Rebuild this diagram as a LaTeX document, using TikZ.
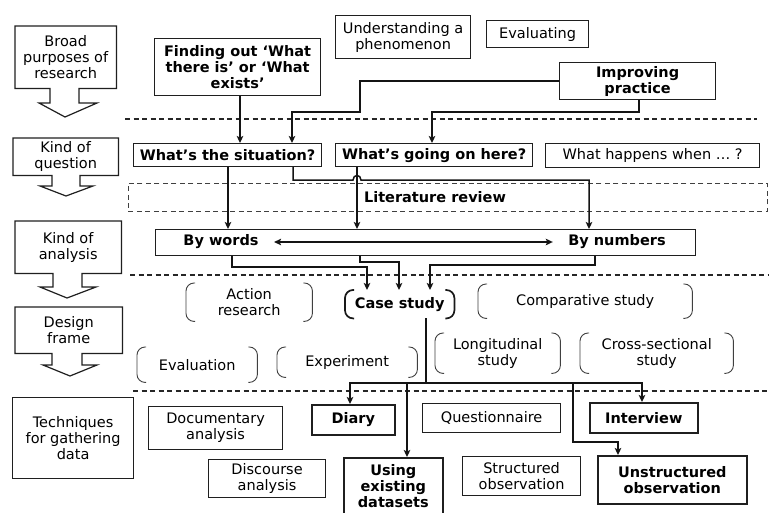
\documentclass[tikz,border=0pt]{standalone}
\usepackage{fontspec}
\setmainfont{DejaVu Sans}
\usetikzlibrary{arrows.meta}

\newcommand\diafont{\fontsize{14.5}{16}\selectfont}
% a pair of round-cornered brackets around a node
\newcommand\bracketpair[2][]{%
  \draw[bracketline,#1] ([xshift=9pt]#2.north west) -- (#2.north west) -- (#2.south west) -- ([xshift=9pt]#2.south west);
  \draw[bracketline,#1] ([xshift=-9pt]#2.north east) -- (#2.north east) -- (#2.south east) -- ([xshift=-9pt]#2.south east);}

\begin{document}
\begin{tikzpicture}[x=1pt,y=-1pt,
  font=\diafont,
  >={Stealth[length=7pt,width=6.5pt,inset=1.5pt]},
  box/.style={draw=black!88, line width=1.2pt, anchor=north west, inner sep=0pt, align=center},
  bbox/.style={box, font=\diafont\bfseries},
  heavybox/.style={bbox, line width=1.6pt},
  stage/.style={anchor=north west, inner sep=0pt, align=center},
  outline/.style={draw=black!88, line width=1.2pt},
  framed/.style={anchor=north west, inner sep=0pt, align=center},
  bracketline/.style={draw=black!75, line width=0.9pt, rounded corners=8pt},
  line/.style={draw=black!92, line width=1.5pt},
  conn/.style={line, ->},
  sep/.style={draw=black!85, line width=1.1pt, dash pattern=on 5pt off 3.5pt},
]
\useasboundingbox[fill=white] (0,0) rectangle (769,512);

% ---- stages down the left-hand side ----
\node[stage, minimum width=101pt, minimum height=62pt] (broad) at (15,26) {Broad\\purposes of\\research};
\draw[outline] (broad.south west) -- (broad.north west) -- (broad.north east) -- (broad.south east)
  -- (broad.south -| 79,0) -- (79,103) -- (97,103) -- (65,117) -- (39,103) -- (50,103) -- (broad.south -| 50,0) -- cycle;

\node[stage, minimum width=105pt, minimum height=37pt] (kindq) at (13,138) {Kind of\\question};
\draw[outline] (kindq.south west) -- (kindq.north west) -- (kindq.north east) -- (kindq.south east)
  -- (kindq.south -| 80,0) -- (80,186) -- (93,186) -- (66,196) -- (40,186) -- (52,186) -- (kindq.south -| 52,0) -- cycle;

\node[stage, minimum width=106pt, minimum height=52pt] (kinda) at (15,221) {Kind of\\analysis};
\draw[outline] (kinda.south west) -- (kinda.north west) -- (kinda.north east) -- (kinda.south east)
  -- (kinda.south -| 82,0) -- (82,287) -- (96,287) -- (67,298) -- (40,287) -- (53,287) -- (kinda.south -| 53,0) -- cycle;

\node[stage, minimum width=107pt, minimum height=46pt] (design) at (15,307) {Design\\frame};
\draw[outline] (design.south west) -- (design.north west) -- (design.north east) -- (design.south east)
  -- (design.south -| 82,0) -- (82,365) -- (97,365) -- (70,376) -- (43,365) -- (52,365) -- (design.south -| 52,0) -- cycle;

\node[box, minimum width=121pt, minimum height=81pt] (techniques) at (12,397) {Techniques\\for gathering\\data};

% ---- separators between the stages ----
\draw[sep] (125,119) -- (757,119);
\draw[sep] (130,275) -- (769,275);
\draw[sep] (133,391) -- (769,391);

% ---- broad purposes ----
\node[bbox, minimum width=166pt, minimum height=57pt] (finding) at (154,38) {Finding out ‘What\\there is’ or ‘What\\exists’};
\node[box, minimum width=135pt, minimum height=43pt] (understanding) at (335,15) {Understanding a\\phenomenon};
\node[box, minimum width=102pt, minimum height=27pt] (evaluating) at (486,20) {Evaluating};
\node[bbox, minimum width=156pt, minimum height=37pt] (improving) at (559,62) {Improving\\practice};

% ---- kinds of question ----
\node[bbox, minimum width=188pt, minimum height=23pt] (situation) at (133,143) {What’s the situation?};
\node[bbox, minimum width=197pt, minimum height=23pt] (goingon) at (335,143) {What’s going on here?};
\node[box, minimum width=214pt, minimum height=24pt] (happens) at (545,143) {What happens when … ?};

% ---- literature review band ----
\node[box, draw=black!75, line width=0.9pt, dash pattern=on 5pt off 3.5pt, minimum width=639pt, minimum height=28pt] (litrev) at (128,183) {};
\node[font=\diafont\bfseries] (litrevtext) at (435,197) {Literature review};

% ---- kinds of analysis ----
\node[box, minimum width=540pt, minimum height=26pt] (analysis) at (155,229) {};
\node[font=\diafont\bfseries] (bywords) at (221,242) {By words};
\node[font=\diafont\bfseries] (bynumbers) at (617,242) {By numbers};

% ---- design frames ----
\node[framed, minimum width=126pt, minimum height=38pt] (action) at (186,283) {Action\\research};
\node[framed, minimum width=109pt, minimum height=28pt, font=\diafont\bfseries] (casestudy) at (345,290) {Case study};
\node[framed, minimum width=214pt, minimum height=34pt] (comparative) at (478,284) {Comparative study};
\node[framed, minimum width=120pt, minimum height=35pt] (evaluation) at (137,347) {Evaluation};
\node[framed, minimum width=140pt, minimum height=30pt] (experiment) at (277,347) {Experiment};
\node[framed, minimum width=125pt, minimum height=40pt] (longitudinal) at (435,333) {Longitudinal\\study};
\node[framed, minimum width=153pt, minimum height=40pt] (crosssectional) at (580,333) {Cross-sectional\\study};
\bracketpair{action}
\bracketpair[line width=1.7pt, draw=black!90]{casestudy}
\bracketpair{comparative}
\bracketpair{evaluation}
\bracketpair{experiment}
\bracketpair{longitudinal}
\bracketpair{crosssectional}

% ---- techniques for gathering data ----
\node[box, minimum width=134pt, minimum height=43pt] (documentary) at (148,406) {Documentary\\analysis};
\node[heavybox, minimum width=83pt, minimum height=30pt] (diary) at (311,404) {Diary};
\node[box, minimum width=138pt, minimum height=29pt] (questionnaire) at (422,403) {Questionnaire};
\node[heavybox, minimum width=108pt, minimum height=30pt] (interview) at (589,402) {Interview};
\node[box, minimum width=117pt, minimum height=38pt] (discourse) at (208,459) {Discourse\\analysis};
\node[heavybox, minimum width=99pt, minimum height=57pt] (using) at (343,457) {Using\\existing\\datasets};
\node[box, minimum width=118pt, minimum height=39pt] (structured) at (462,456) {Structured\\observation};
\node[heavybox, minimum width=149pt, minimum height=48pt] (unstructured) at (597,455) {Unstructured\\observation};

% ---- connectors: purposes to questions ----
\draw[conn] (finding.south -| 240,0) -- (situation.north -| 240,0);
\draw[conn] (improving.west) -| (360,112) -| (situation.north -| 292,0);
\draw[conn] (improving.south -| 639,0) -- (639,112) -| (goingon.north -| 432,0);

% ---- connectors: questions to analysis ----
\draw[conn] (situation.south -| 228,0) -- (analysis.north -| 228,0);
\draw[conn] (goingon.south -| 357,0) -- (analysis.north -| 357,0);
\draw[conn] (situation.south -| 293,0) -- (293,180) -- (353,180)
  .. controls (353,174) and (361,174) .. (361,180) -- (589,180) -- (analysis.north -| 589,0);
\draw[line, <->] ([xshift=12pt]bywords.east) -- ([xshift=-12pt]bynumbers.west);

% ---- connectors: analysis to the case study ----
\draw[conn] (analysis.south -| 232,0) -- (232,267) -| (casestudy.north -| 367,0);
\draw[conn] (analysis.south -| 360,0) -- (360,262) -| (casestudy.north -| 399,0);
\draw[conn] (analysis.south -| 595,0) -- (595,265) -| (casestudy.north -| 430,0);

% ---- connectors: case study to techniques ----
\coordinate (split) at (426,383);
\draw[line] (casestudy.south -| split) -- (split);
\draw[conn] (split) -| (diary.north -| 350,0);
\draw[conn] (split) -| (interview.north -| 642,0);
\draw[conn] (split -| 407,0) -- (using.north -| 407,0);
\draw[conn] (split -| 573,0) -- (573,442) -| (unstructured.north -| 618,0);
\end{tikzpicture}
\end{document}
